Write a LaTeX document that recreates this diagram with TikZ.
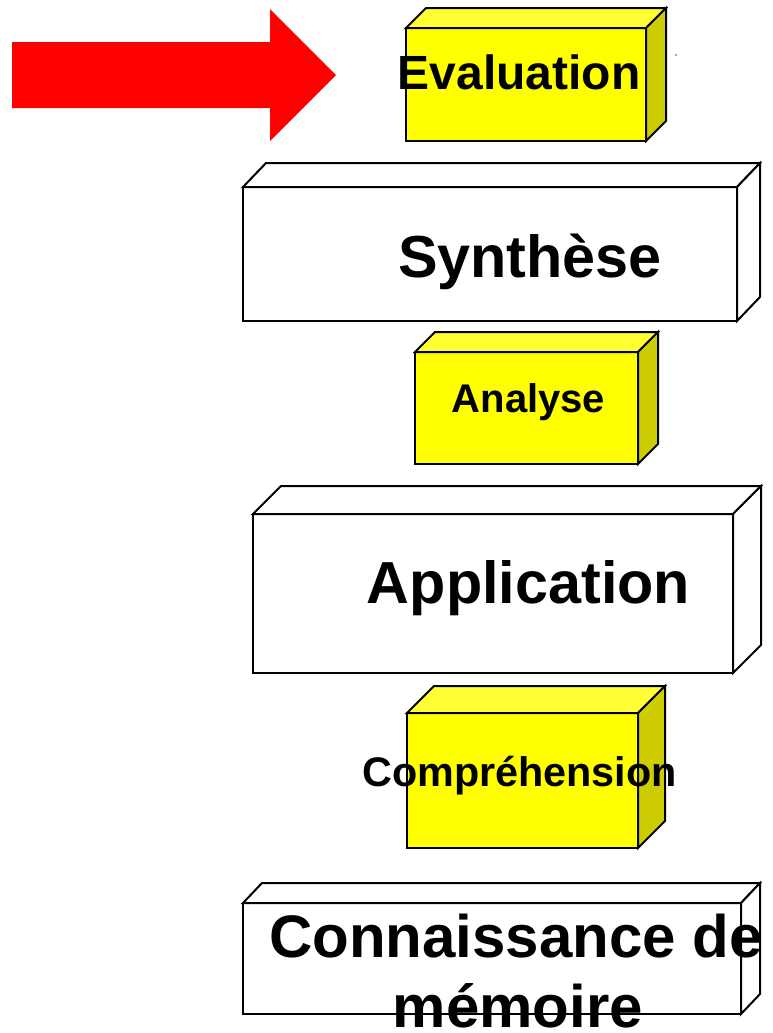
\documentclass[tikz,border=0pt]{standalone}
\usepackage{fontspec}
\setmainfont{Liberation Sans}
\definecolor{yellowfront}{HTML}{FFFF00}
\definecolor{yellowtop}{HTML}{FFFF33}
\definecolor{yellowside}{HTML}{CCCC00}
\definecolor{whitefront}{HTML}{FFFFFF}
\definecolor{whitetop}{HTML}{FFFFFF}
\definecolor{whiteside}{HTML}{FFFFFF}
\definecolor{arrowred}{HTML}{FF0000}
\tikzset{
  boxline/.style={draw=black, line width=1.5pt, line join=miter},
  label/.style={anchor=base, inner sep=0pt, font=\bfseries},
}
% #1 name, #2 left, #3 top, #4 right, #5 bottom, #6 depth x, #7 depth y, #8 colour set
\newcommand{\blockbox}[8]{%
  \coordinate (#1-nw) at (#2,#3);
  \coordinate (#1-ne) at (#4,#3);
  \coordinate (#1-se) at (#4,#5);
  \coordinate (#1-sw) at (#2,#5);
  \coordinate (#1-bnw) at ({#2+#6},{#3-#7});
  \coordinate (#1-bne) at ({#4+#6},{#3-#7});
  \coordinate (#1-bse) at ({#4+#6},{#5-#7});
  \filldraw[boxline, fill=#8front] (#1-nw) -- (#1-ne) -- (#1-se) -- (#1-sw) -- cycle;
  \filldraw[boxline, fill=#8top] (#1-nw) -- (#1-bnw) -- (#1-bne) -- (#1-ne) -- cycle;
  \filldraw[boxline, fill=#8side] (#1-ne) -- (#1-bne) -- (#1-bse) -- (#1-se) -- cycle;
}
\begin{document}
\begin{tikzpicture}[x=0.75pt, y=-0.75pt]
  \useasboundingbox (0,0) rectangle (773,1033);

  % pointer arrow
  \fill[arrowred] (12,42) -- (270,42) -- (270,9) -- (336,75) -- (270,141)
    -- (270,108) -- (12,108) -- cycle;
  \fill[arrowred] (676,55) circle (0.8);

  % stacked blocks, top to bottom
  \blockbox{eval}{406}{28}{646}{141}{20}{20}{yellow}
  \node[label, font=\fontsize{36}{40}\selectfont\bfseries] (evaltext) at (519,89) {Evaluation};

  \blockbox{synth}{243}{187}{737}{321}{23}{24}{white}
  \node[label, font=\fontsize{44.5}{50}\selectfont\bfseries] (synthtext) at (530,277) {Synthèse};

  \blockbox{anal}{415}{352}{638}{464}{20}{20}{yellow}
  \node[label, font=\fontsize{30}{34}\selectfont\bfseries] (analtext) at (528.5,412) {Analyse};

  \blockbox{appl}{253}{514}{733}{673}{28}{28}{white}
  \node[label, font=\fontsize{44.5}{50}\selectfont\bfseries] (appltext) at (528.5,603) {Application};

  \blockbox{compr}{407}{713}{638}{848}{27}{27}{yellow}
  \node[label, font=\fontsize{31}{35}\selectfont\bfseries] (comprtext) at (519.5,786) {Compréhension};

  \blockbox{conn}{243}{903}{741}{1014}{19}{20}{white}
  \node[label, font=\fontsize{45}{52.5}\selectfont\bfseries] (conntext1) at (516,957) {Connaissance de};
  \node[label, font=\fontsize{45}{52.5}\selectfont\bfseries] (conntext2) at (518,1027) {mémoire};
\end{tikzpicture}
\end{document}
